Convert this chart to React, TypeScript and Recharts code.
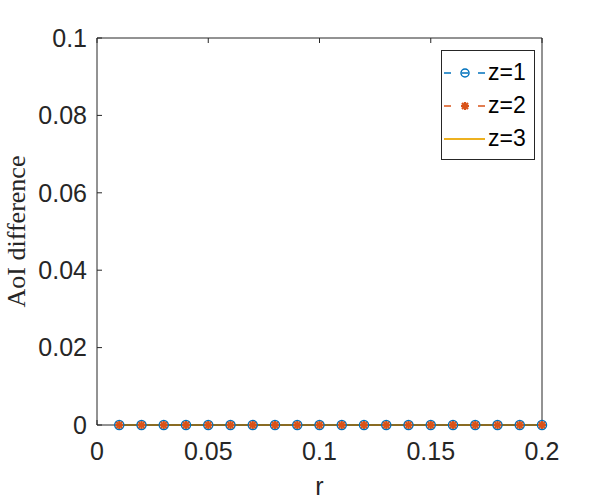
import { LineChart, Line, XAxis, YAxis, Legend } from "recharts";

// r values on the x axis
const rValues = [
  0.01, 0.02, 0.03, 0.04, 0.05, 0.06, 0.07, 0.08, 0.09, 0.1,
  0.11, 0.12, 0.13, 0.14, 0.15, 0.16, 0.17, 0.18, 0.19, 0.2,
];
// AoI difference per z (all flat at zero in the figure)
const z1Diff = [0, 0, 0, 0, 0, 0, 0, 0, 0, 0, 0, 0, 0, 0, 0, 0, 0, 0, 0, 0];
const z2Diff = [0, 0, 0, 0, 0, 0, 0, 0, 0, 0, 0, 0, 0, 0, 0, 0, 0, 0, 0, 0];
const z3Diff = [0, 0, 0, 0, 0, 0, 0, 0, 0, 0, 0, 0, 0, 0, 0, 0, 0, 0, 0, 0];

const xTicks = [0, 0.05, 0.1, 0.15, 0.2];
const yTicks = [0, 0.02, 0.04, 0.06, 0.08, 0.1];

const seriesNames = ["z=1", "z=2", "z=3"];

const BLUE = "#0072BD";
const ORANGE = "#D95319";
const YELLOW = "#EDB120";
const INK = "#262626";
const SANS = "'Liberation Sans', Arial, Helvetica, sans-serif";

const data = rValues.map((r, i) => ({ r, z1: z1Diff[i], z2: z2Diff[i], z3: z3Diff[i] }));

const tickStyle = { fill: INK, fontSize: 25, fontFamily: SANS };

function CircleDot(props: any) {
  const { cx, cy } = props;
  if (cx == null || cy == null) return <g />;
  return <circle cx={cx} cy={cy} r={4.5} fill="none" stroke={BLUE} strokeWidth={1.5} />;
}

function StarDot(props: any) {
  const { cx, cy } = props;
  if (cx == null || cy == null) return <g />;
  const s = 4;
  const d = 3;
  return (
    <g stroke={ORANGE} strokeWidth={2.2}>
      <line x1={cx - s} y1={cy} x2={cx + s} y2={cy} />
      <line x1={cx} y1={cy - s} x2={cx} y2={cy + s} />
      <line x1={cx - d} y1={cy - d} x2={cx + d} y2={cy + d} />
      <line x1={cx - d} y1={cy + d} x2={cx + d} y2={cy - d} />
    </g>
  );
}

function YTitle(props: any) {
  const vb = props.viewBox;
  const x = vb.x - 12;
  const y = vb.y + vb.height / 2;
  return (
    <text
      x={x}
      y={y}
      transform={`rotate(-90, ${x}, ${y})`}
      textAnchor="middle"
      fill={INK}
      fontSize={26}
      fontFamily="'Liberation Serif', 'Times New Roman', serif"
    >
      AoI difference
    </text>
  );
}

function XTitle(props: any) {
  const vb = props.viewBox;
  return (
    <text x={vb.x + vb.width / 2} y={vb.y + 70} textAnchor="middle" fill={INK} fontSize={25} fontFamily={SANS}>
      r
    </text>
  );
}

function LegendBox() {
  const markers = [
    <g key="m1" stroke={BLUE} strokeWidth={1.5}>
      <line x1={2} y1={10} x2={9} y2={10} />
      <line x1={20} y1={10} x2={26} y2={10} />
      <circle cx={23} cy={10} r={4} fill="none" />
      <line x1={36} y1={10} x2={43} y2={10} />
    </g>,
    <g key="m2">
      <line x1={2} y1={10} x2={9} y2={10} stroke={ORANGE} strokeWidth={1.5} />
      <StarDot cx={23} cy={10} />
      <line x1={36} y1={10} x2={43} y2={10} stroke={ORANGE} strokeWidth={1.5} />
    </g>,
    <line key="m3" x1={2} y1={10} x2={43} y2={10} stroke={YELLOW} strokeWidth={2} />,
  ];
  return (
    <div
      style={{
        width: 92,
        height: 103,
        border: `1px solid ${INK}`,
        background: "#fff",
        paddingTop: 5,
        boxSizing: "content-box",
      }}
    >
      {seriesNames.map((name, i) => (
        <div key={name} style={{ display: "flex", alignItems: "center", height: 33 }}>
          <svg width={46} height={20}>{markers[i]}</svg>
          <span style={{ fontFamily: SANS, fontSize: 23, color: "#000", lineHeight: "33px" }}>{name}</span>
        </div>
      ))}
    </div>
  );
}

export default function App() {
  return (
    <div style={{ position: "absolute", left: 0, top: 0, width: 600, height: 500, background: "#fff" }}>
      <LineChart width={600} height={500} data={data} margin={{ top: 28, right: 48, bottom: 45, left: 37 }}>
        <XAxis
          xAxisId="bottom"
          dataKey="r"
          type="number"
          domain={[0, 0.2]}
          ticks={xTicks}
          interval={0}
          height={30}
          tick={tickStyle}
          tickSize={-5}
          tickMargin={22}
          axisLine={{ stroke: INK }}
          tickLine={{ stroke: INK }}
          label={<XTitle />}
        />
        <XAxis
          xAxisId="top"
          orientation="top"
          dataKey="r"
          type="number"
          domain={[0, 0.2]}
          ticks={xTicks}
          interval={0}
          height={10}
          tick={() => <g />}
          tickSize={-5}
          axisLine={{ stroke: INK }}
          tickLine={{ stroke: INK }}
        />
        <YAxis
          yAxisId="left"
          type="number"
          domain={[0, 0.1]}
          ticks={yTicks}
          interval={0}
          width={60}
          tick={tickStyle}
          tickSize={-5}
          tickMargin={15}
          axisLine={{ stroke: INK }}
          tickLine={{ stroke: INK }}
          label={<YTitle />}
        />
        <YAxis
          yAxisId="right"
          orientation="right"
          type="number"
          domain={[0, 0.1]}
          ticks={yTicks}
          interval={0}
          width={10}
          tick={() => <g />}
          tickSize={-5}
          axisLine={{ stroke: INK }}
          tickLine={{ stroke: INK }}
        />
        <Legend
          layout="vertical"
          align="center"
          verticalAlign="middle"
          content={<LegendBox />}
          wrapperStyle={{ position: "absolute", left: 441, top: 50, width: 94, height: 110 }}
        />
        <Line
          xAxisId="bottom"
          yAxisId="left"
          dataKey="z1"
          name={seriesNames[0]}
          stroke={BLUE}
          strokeWidth={1.5}
          strokeDasharray="6 4"
          dot={<CircleDot />}
          isAnimationActive={false}
        />
        <Line
          xAxisId="bottom"
          yAxisId="left"
          dataKey="z2"
          name={seriesNames[1]}
          stroke={ORANGE}
          strokeWidth={1.5}
          strokeDasharray="6 4"
          dot={<StarDot />}
          isAnimationActive={false}
        />
        <Line
          xAxisId="bottom"
          yAxisId="left"
          dataKey="z3"
          name={seriesNames[2]}
          stroke={YELLOW}
          strokeWidth={2}
          dot={false}
          isAnimationActive={false}
        />
      </LineChart>
    </div>
  );
}
